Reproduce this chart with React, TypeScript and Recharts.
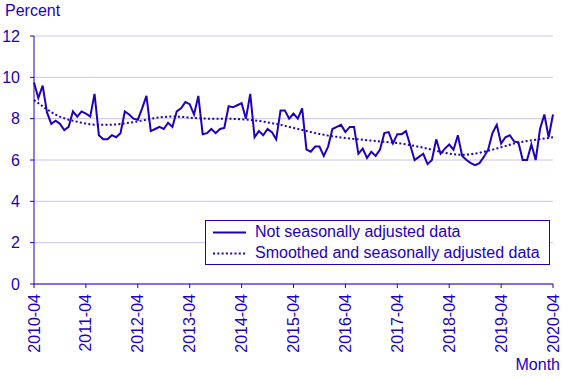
import { LineChart, Line, XAxis, YAxis, CartesianGrid } from "recharts";

const BLUE = "#1E00BE";
const GRID = "#C9C4F0";
const FONT = '"Liberation Sans", Arial, sans-serif';

// monthly values, 2010-04 .. 2020-04
const NOT_ADJUSTED = [
  9.75, 9.0, 9.6, 8.3, 7.75, 7.9, 7.75, 7.45, 7.6, 8.35, 8.1, 8.35,
  8.25, 8.1, 9.2, 7.2, 7.0, 7.0, 7.2, 7.1, 7.3, 8.35, 8.2, 8.0,
  7.95, 8.5, 9.1, 7.4, 7.5, 7.6, 7.5, 7.8, 7.6, 8.35, 8.5, 8.8,
  8.7, 8.2, 9.1, 7.25, 7.3, 7.5, 7.3, 7.5, 7.55, 8.6, 8.55, 8.65,
  8.75, 8.0, 9.2, 7.1, 7.4, 7.2, 7.5, 7.35, 7.0, 8.4, 8.4, 8.0,
  8.25, 8.0, 8.5, 6.5, 6.4, 6.65, 6.65, 6.2, 6.65, 7.5, 7.6, 7.7,
  7.35, 7.6, 7.6, 6.3, 6.55, 6.1, 6.4, 6.2, 6.5, 7.3, 7.35, 6.8,
  7.25, 7.25, 7.4, 6.7, 6.0, 6.15, 6.3, 5.8, 6.0, 7.0, 6.3, 6.55,
  6.75, 6.5, 7.2, 6.2, 6.0, 5.85, 5.75, 5.85, 6.15, 6.5, 7.3, 7.7,
  6.8, 7.1, 7.2, 6.9, 6.85, 6.0, 6.0, 6.75, 6.0, 7.5, 8.2, 7.1,
  8.2,
];

const SMOOTHED = [
  8.9, 8.75, 8.6, 8.45, 8.32, 8.2, 8.1, 8.02, 7.95, 7.9, 7.85, 7.8,
  7.76, 7.73, 7.71, 7.7, 7.7, 7.7, 7.71, 7.72, 7.74, 7.77, 7.8, 7.83,
  7.87, 7.91, 7.95, 7.99, 8.03, 8.06, 8.08, 8.1, 8.1, 8.1, 8.09, 8.07,
  8.05, 8.03, 8.02, 8.01, 8.0, 8.0, 8.0, 8.0, 8.0, 8.0, 7.99, 7.98,
  7.97, 7.96, 7.94, 7.92, 7.89, 7.86, 7.82, 7.78, 7.74, 7.7, 7.65, 7.6,
  7.55, 7.5, 7.45, 7.4, 7.35, 7.3, 7.26, 7.22, 7.18, 7.15, 7.12, 7.09,
  7.06, 7.04, 7.02, 7.0, 6.98, 6.96, 6.94, 6.92, 6.9, 6.88, 6.86, 6.84,
  6.82, 6.79, 6.76, 6.72, 6.68, 6.64, 6.6, 6.55, 6.5, 6.45, 6.4, 6.35,
  6.31, 6.28, 6.26, 6.25, 6.26, 6.28, 6.31, 6.35, 6.4, 6.45, 6.5, 6.56,
  6.62, 6.68, 6.74, 6.8, 6.84, 6.88, 6.92, 6.95, 6.98, 7.01, 7.04, 7.07,
  7.1,
];

const TICK_LABELS = [
  "2010-04", "2011-04", "2012-04", "2013-04", "2014-04", "2015-04",
  "2016-04", "2017-04", "2018-04", "2019-04", "2020-04",
];
const X_TICKS = TICK_LABELS.map((_, k) => k * 12);
const Y_TICKS = [0, 2, 4, 6, 8, 10, 12];

const data = NOT_ADJUSTED.map((v, i) => ({ i, raw: v, smooth: SMOOTHED[i] }));

function RotatedTick({ x, y, payload }: any) {
  return (
    <text
      x={x}
      y={y + 2}
      dy="0.35em"
      transform={`rotate(-90, ${x}, ${y + 2})`}
      textAnchor="end"
      fill={BLUE}
      fontSize={16}
      fontFamily={FONT}
    >
      {TICK_LABELS[Math.round(payload.value / 12)]}
    </text>
  );
}

export default function App() {
  return (
    <div
      style={{
        position: "absolute",
        left: 0,
        top: 0,
        width: 567,
        height: 378,
        fontFamily: FONT,
        color: BLUE,
        background: "#fff",
      }}
    >
      <div style={{ position: "absolute", left: 5, top: 3, fontSize: 16, lineHeight: 1 }}>
        Percent
      </div>
      <LineChart width={567} height={378} data={data} margin={{ top: 36, right: 14, bottom: 0, left: 0 }}>
        <CartesianGrid vertical={false} stroke={GRID} strokeWidth={1} />
        <XAxis
          dataKey="i"
          type="number"
          domain={[0, 120]}
          ticks={X_TICKS}
          interval={0}
          height={94}
          stroke={BLUE}
          tickSize={4}
          tickMargin={4}
          tick={<RotatedTick />}
        />
        <YAxis
          type="number"
          domain={[0, 12]}
          ticks={Y_TICKS}
          width={34}
          stroke={BLUE}
          tickSize={4}
          tickMargin={10}
          tick={{ fill: BLUE, fontSize: 16, fontFamily: FONT }}
        />
        <Line
          dataKey="smooth"
          stroke={BLUE}
          strokeWidth={2}
          strokeDasharray="2 2.3"
          dot={false}
          isAnimationActive={false}
        />
        <Line
          dataKey="raw"
          stroke={BLUE}
          strokeWidth={2}
          dot={false}
          isAnimationActive={false}
        />
      </LineChart>
      <div
        style={{
          position: "absolute",
          left: 205,
          top: 220,
          width: 343,
          height: 43,
          border: `1px solid ${BLUE}`,
          background: "#fff",
          fontSize: 16,
          lineHeight: 1,
        }}
      >
        <svg width={40} height={43} style={{ position: "absolute", left: 0, top: 0 }}>
          <line x1={7} x2={41} y1={11.5} y2={11.5} stroke={BLUE} strokeWidth={2} />
          <line x1={7} x2={41} y1={32.5} y2={32.5} stroke={BLUE} strokeWidth={2} strokeDasharray="2 2.3" />
        </svg>
        <div style={{ position: "absolute", left: 49, top: 3 }}>Not seasonally adjusted data</div>
        <div style={{ position: "absolute", left: 49, top: 24 }}>Smoothed and seasonally adjusted data</div>
      </div>
      <div style={{ position: "absolute", right: 7, top: 357, fontSize: 16, lineHeight: 1 }}>
        Month
      </div>
    </div>
  );
}
